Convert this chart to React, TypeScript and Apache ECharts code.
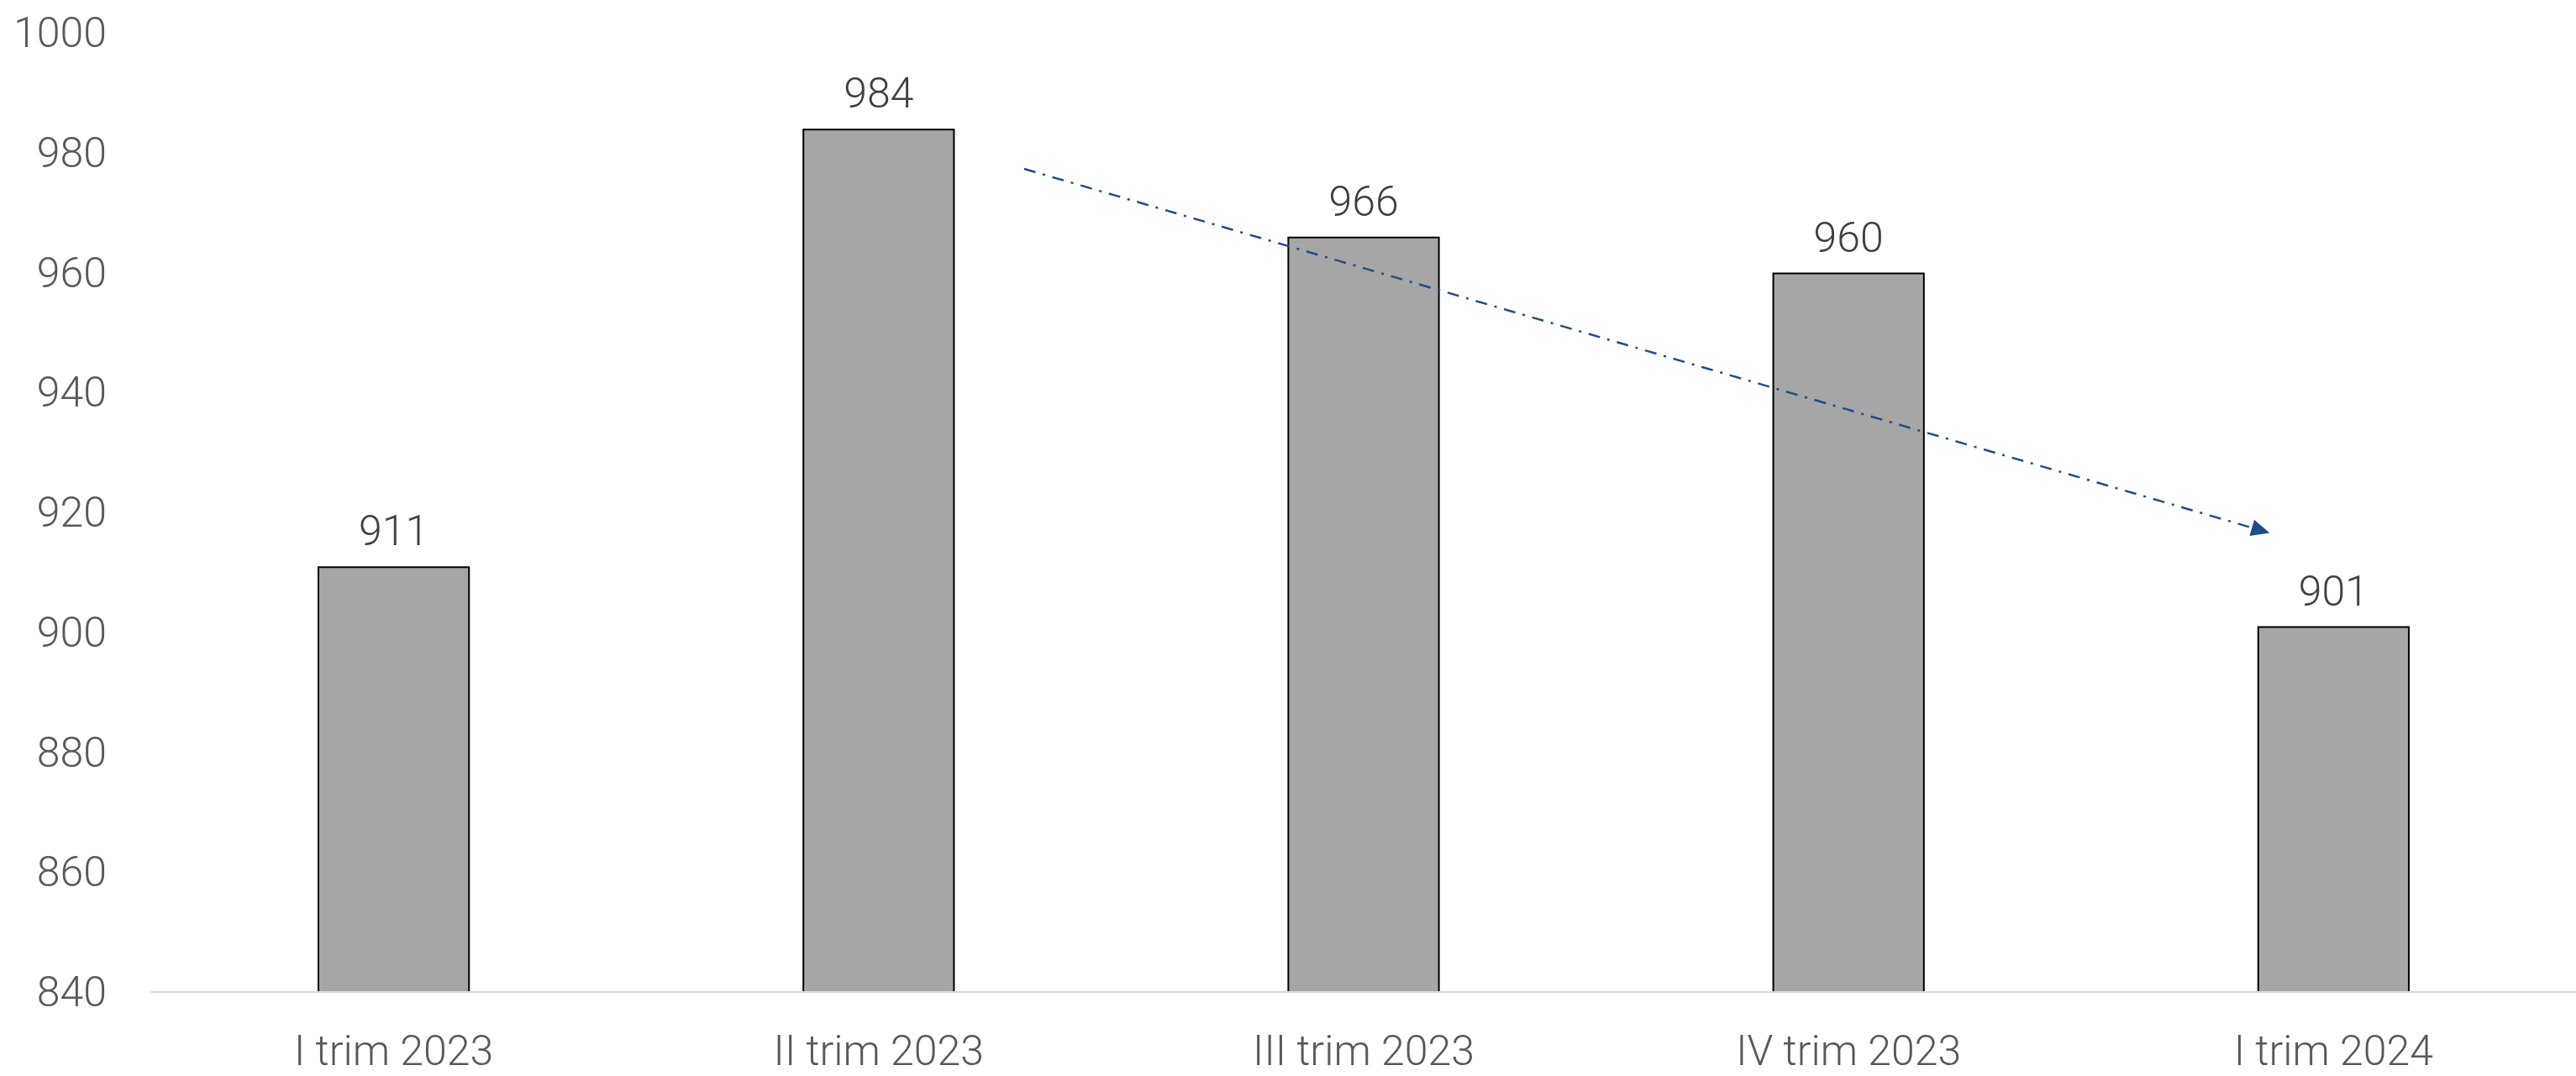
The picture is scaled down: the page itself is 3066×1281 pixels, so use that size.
import React, { useEffect, useRef } from "react";
import * as echarts from "echarts";

const categories = ["I trim 2023", "II trim 2023", "III trim 2023", "IV trim 2023", "I trim 2024"];
const values = [911, 984, 966, 960, 901];
const yTicks = { min: 840, max: 1000, interval: 20 };
const trendStart = [1.3, 977.3];
const trendEnd = [3.85, 917];

const FONT = "Roboto";

export default function App() {
  const ref = useRef<HTMLDivElement>(null);
  useEffect(() => {
    if (!ref.current) return;
    const chart = echarts.init(ref.current, null, { renderer: "svg" });
    chart.setOption({
      animation: false,
      backgroundColor: "#ffffff",
      grid: { left: 180, right: 0, top: 39, bottom: 100, containLabel: false },
      xAxis: [
        {
          type: "category",
          data: categories,
          axisLine: { show: true, lineStyle: { color: "#D9D9D9", width: 2 } },
          axisTick: { show: false },
          axisLabel: {
            color: "#595959",
            fontFamily: FONT,
            fontWeight: 300,
            fontSize: 50,
            lineHeight: 50,
            margin: 45,
          },
          z: 5,
        },
        { type: "value", min: -0.5, max: 4.5, show: false },
      ],
      yAxis: {
        type: "value",
        min: yTicks.min,
        max: yTicks.max,
        interval: yTicks.interval,
        splitLine: { show: false },
        axisLine: { show: false },
        axisTick: { show: false },
        axisLabel: {
          color: "#595959",
          fontFamily: FONT,
          fontWeight: 300,
          fontSize: 50,
          margin: 53,
          formatter: (v: number) => String(v),
        },
      },
      series: [
        {
          type: "bar",
          data: values,
          barWidth: "31.4%",
          itemStyle: { color: "#A6A6A6", borderColor: "#000000", borderWidth: 2 },
          label: {
            show: true,
            position: "top",
            distance: 17,
            color: "#404040",
            fontFamily: FONT,
            fontWeight: 300,
            fontSize: 50,
            lineHeight: 50,
          },
        },
        {
          type: "line",
          xAxisIndex: 1,
          data: [trendStart, trendEnd],
          symbol: "none",
          lineStyle: { opacity: 0 },
          silent: true,
          markLine: {
            silent: true,
            symbol: ["none", "triangle"],
            symbolSize: [20, 22],
            label: { show: false },
            lineStyle: { color: "#1F4E89", width: 2.5, type: [14, 9, 3, 9] },
            data: [[{ coord: trendStart }, { coord: trendEnd }]],
          },
        },
      ],
    });
    return () => chart.dispose();
  }, []);
  return (
    <div
      ref={ref}
      style={{ position: "absolute", left: 0, top: 0, width: 3066, height: 1281 }}
    />
  );
}
